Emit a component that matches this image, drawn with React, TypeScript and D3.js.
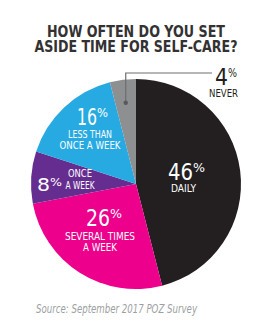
import React from 'react';
import * as d3 from 'd3';

// survey answers, clockwise from 12 o'clock
const categories = ['Daily', 'Several times a week', 'Once a week', 'Less than once a week', 'Never'];
const values = [46, 26, 8, 16, 4];
const captions = [['DAILY'], ['SEVERAL TIMES', 'A WEEK'], ['ONCE', 'A WEEK'], ['LESS THAN', 'ONCE A WEEK'], ['NEVER']];
const colors = ['#231f20', '#ec008c', '#662d91', '#27aae1', '#8d8f91'];

const titleLines = ['HOW OFTEN DO YOU SET', 'ASIDE TIME FOR SELF-CARE?'];
const sourceText = 'Source: September 2017 POZ Survey';

const W = 271;
const H = 333;
const cx = 136;
const cy = 184;
const R = 105;
const FONT = "'Liberation Sans Narrow', 'DejaVu Sans Condensed', 'Liberation Sans', Arial, sans-serif";

// label placement (layout only): digits box, percent sign, caption lines
interface LabelLayout {
  numX: number; numW: number; numY: number; numSize: number;
  pctW: number; pctRise: number; pctSize: number;
  capX: number; capAnchor: 'middle' | 'end'; capYs: number[]; capWs: number[]; capSize: number;
  color: string;
}
const layout: LabelLayout[] = [
  { numX: 168, numW: 25, numY: 180, numSize: 23, pctW: 12, pctRise: 8, pctSize: 12,
    capX: 183.5, capAnchor: 'middle', capYs: [191.5], capWs: [25], capSize: 10, color: '#fff' },
  { numX: 86, numW: 24, numY: 226, numSize: 23, pctW: 12, pctRise: 8, pctSize: 12,
    capX: 100, capAnchor: 'middle', capYs: [240, 251], capWs: [70, 34], capSize: 11, color: '#fff' },
  { numX: 37, numW: 13, numY: 191, numSize: 17, pctW: 12, pctRise: 5, pctSize: 10,
    capX: 80, capAnchor: 'middle', capYs: [176.5, 189], capWs: [24, 29], capSize: 10, color: '#fff' },
  { numX: 77, numW: 20, numY: 125, numSize: 23, pctW: 11, pctRise: 8, pctSize: 12,
    capX: 90, capAnchor: 'middle', capYs: [138, 149], capWs: [44, 61], capSize: 10.5, color: '#fff' },
  { numX: 215, numW: 13, numY: 85, numSize: 23, pctW: 9, pctRise: 8, pctSize: 12,
    capX: 238, capAnchor: 'end', capYs: [96.5], capWs: [29], capSize: 10, color: '#231f20' },
];

const App: React.FC = () => {
  const pie = d3.pie<number>().sort(null).value(d => d);
  const arcs = pie(values);
  const arcGen = d3.arc<d3.PieArcDatum<number>>().innerRadius(0).outerRadius(R);

  // leader for the small "never" slice
  const never = arcs[4];
  const neverAngle = (never.startAngle + never.endAngle) / 2;
  const dotR = R * 0.78;
  const dotX = cx + dotR * Math.sin(neverAngle);
  const dotY = cy - dotR * Math.cos(neverAngle);
  const elbowY = 73;

  return (
    <div style={{ position: 'absolute', left: 0, top: 0, width: W, height: H, background: '#fff' }}>
      <svg width={W} height={H} style={{ display: 'block' }}>
        <rect width={W} height={H} fill="#fff" />
        {titleLines.map((t, i) => (
          <text key={t} x={136} y={37 + i * 15} textAnchor="middle" fontFamily={FONT}
            fontSize={15.5} fontWeight="bold" fill="#333132"
            textLength={i === 0 ? 178 : 203} lengthAdjust="spacingAndGlyphs">{t}</text>
        ))}
        <g transform={`translate(${cx},${cy})`}>
          {arcs.map((a, i) => (
            <path key={categories[i]} d={arcGen(a) as string} fill={colors[i]} />
          ))}
        </g>
        <polyline points={`${dotX},${dotY} ${dotX},${elbowY} 212,${elbowY}`}
          fill="none" stroke="#6d6e71" strokeWidth={1.2} />
        <circle cx={dotX} cy={dotY} r={2.2} fill="#58595b" />
        {values.map((v, i) => {
          const L = layout[i];
          return (
            <g key={categories[i]} fill={L.color} fontFamily={FONT}>
              <text x={L.numX} y={L.numY} fontSize={L.numSize}>
                <tspan textLength={L.numW} lengthAdjust="spacingAndGlyphs">{String(v)}</tspan>
                <tspan dy={-L.pctRise} fontSize={L.pctSize}
                  textLength={L.pctW} lengthAdjust="spacingAndGlyphs">%</tspan>
              </text>
              {captions[i].map((c, j) => (
                <text key={c + j} x={L.capX} y={L.capYs[j]} textAnchor={L.capAnchor}
                  fontSize={L.capSize} textLength={L.capWs[j]} lengthAdjust="spacingAndGlyphs">{c}</text>
              ))}
            </g>
          );
        })}
        <text x={36} y={313} fontFamily={FONT} fontStyle="italic" fontSize={11.5}
          fill="#9d9fa2" textLength={161} lengthAdjust="spacingAndGlyphs">{sourceText}</text>
      </svg>
    </div>
  );
};

export default App;
